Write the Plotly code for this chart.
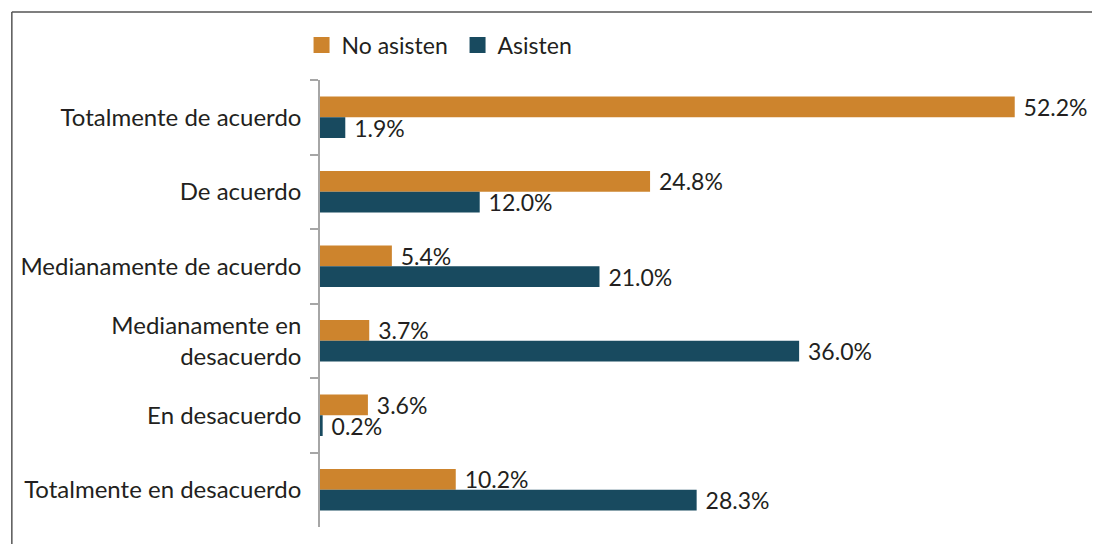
import plotly.graph_objects as go

categories = ["Totalmente de acuerdo", "De acuerdo", "Medianamente de acuerdo",
              "Medianamente en<br>desacuerdo", "En desacuerdo", "Totalmente en desacuerdo"]
no_asisten = [52.2, 24.8, 5.4, 3.7, 3.6, 10.2]
asisten = [1.9, 12.0, 21.0, 36.0, 0.2, 28.3]
series_names = ["No asisten", "Asisten"]
colors = ["#CD842D", "#184A5F"]

FONT = "Lato"
TXT = "#231f20"
FS = 23

fig = go.Figure()
for name, vals, col in zip(series_names, [no_asisten, asisten], colors):
    fig.add_trace(go.Bar(
        y=categories, x=vals, name=name, orientation="h", showlegend=False,
        marker=dict(color=col, line=dict(width=0)),
        text=["\u00a0" + f"{v:.1f}%" for v in vals], textposition="outside",
        textfont=dict(family=FONT, size=FS, color=TXT),
        constraintext="none", cliponaxis=False,
    ))
# legend entries with larger square swatches
for name, col in zip(series_names, colors):
    fig.add_trace(go.Scatter(
        x=[None], y=[None], mode="markers", name=name,
        marker=dict(symbol="square", size=17, color=col),
    ))

OFF = 8  # page body margin compensation
W, H = 1100, 544
L = 318 - OFF
T = 80 - OFF
pw = 734
ph = 447
R = W - L - pw
B = H - T - ph

def px(xr):
    return (xr - OFF - L) / pw

def py(yr):
    return (T + ph - (yr - OFF)) / ph

fig.update_layout(
    width=W, height=H,
    margin=dict(l=L, r=R, t=T, b=B),
    barmode="group", bargap=0.443, bargroupgap=0,
    plot_bgcolor="white", paper_bgcolor="white",
    font=dict(family=FONT, size=FS, color=TXT),
    legend=dict(orientation="h", x=px(318.5 - 19), xanchor="left",
                y=py(45), yanchor="middle",
                font=dict(family=FONT, size=FS, color=TXT),
                entrywidth=111, entrywidthmode="pixels",
                traceorder="normal", itemclick=False, bgcolor="rgba(0,0,0,0)"),
    xaxis=dict(visible=False, range=[0, 55], showgrid=False),
    yaxis=dict(autorange="reversed", showline=True, linecolor="#a6a6a6", linewidth=1.5,
               ticks="outside", tickson="boundaries", ticklen=8, tickcolor="#a6a6a6",
               tickwidth=1.5, showgrid=False, ticklabelstandoff=12,
               tickfont=dict(family=FONT, size=24, color=TXT)),
    shapes=[
        dict(type="line", xref="paper", yref="paper",
             x0=px(9), x1=px(1120), y0=py(12), y1=py(12),
             line=dict(color="#555555", width=1.5)),
        dict(type="line", xref="paper", yref="paper",
             x0=px(9), x1=px(9), y0=py(12), y1=py(570),
             line=dict(color="#555555", width=1.5)),
    ],
)
fig.write_html("out.html")
